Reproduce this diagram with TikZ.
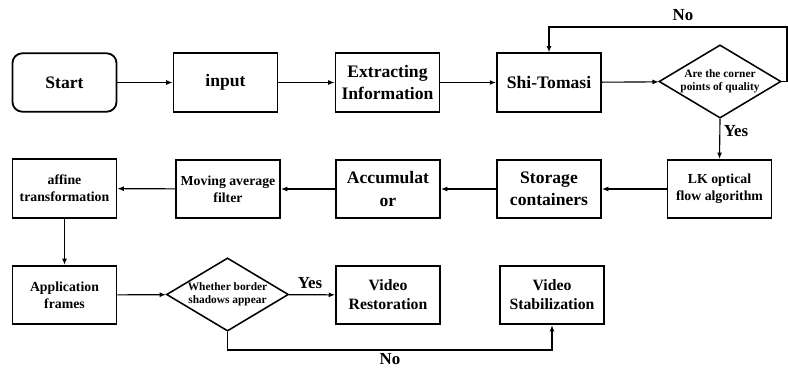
\documentclass[tikz,border=0pt]{standalone}
\usepackage{fontspec}
\setmainfont{Liberation Serif}
\usetikzlibrary{shapes.geometric,arrows.meta}
\begin{document}
\begin{tikzpicture}[x=0.025cm,y=-0.025cm,
                       box node/.style={rectangle,draw,line width=1.3pt,minimum width=2.6cm,minimum height=1.46cm,align=center,inner sep=1pt},
                       start node/.style={box node,rounded corners=7pt},
                       test node/.style={diamond,draw,line width=1.1pt,shape aspect=1.67,minimum width=3.05cm,minimum height=1.83cm,inner sep=0pt,align=center},
                       big/.style={font=\bfseries\fontsize{12.5}{16}\selectfont},
                       mid/.style={font=\bfseries\fontsize{11.2}{13.5}\selectfont},
                       small/.style={font=\bfseries\fontsize{9.8}{12}\selectfont},
                       tiny/.style={font=\bfseries\fontsize{8.1}{9.4}\selectfont},
                       tag/.style={font=\bfseries\fontsize{12}{14}\selectfont},
                       flow/.style={line width=0.8pt,-{Latex[length=4.5pt,width=3.5pt]}}
                      ]
  \useasboundingbox (0,0) rectangle (788,369);

  % first row
  \node[start node,big] (start) at (64.5,82.5) {Start};
  \node[box node,big] (input) at (225.5,82.5) {input};
  \node[box node,big] (extract) at (387.5,82.5) {Extracting\\Information};
  \node[box node,big] (shi) at (549,82.5) {Shi-Tomasi};
  \node[test node,tiny] (corner) at (720,81.5) {Are the corner\\points of quality};

  % second row
  \node[box node,small] (lk) at (719.5,189) {LK optical\\flow algorithm};
  \node[box node,big] (store) at (549,189) {Storage\\containers};
  \node[box node,big] (accum) at (388,189) {Accumulat\\or};
  \node[box node,small] (moving) at (228,189) {Moving average\\filter};
  \node[box node,small] (affine) at (64.5,188.5) {affine\\transformation};

  % third row
  \node[box node,small] (apply) at (64.5,295) {Application\\frames};
  \node[test node,tiny] (border) at (227.5,294.5) {Whether border\\shadows appear};
  \node[box node,mid] (restore) at (388,295) {Video\\Restoration};
  \node[box node,mid] (stable) at (552,295) {Video\\Stabilization};

  \coordinate (loop) at (787,27);
  \coordinate (turn) at (227.5,350);

  \draw[flow] (start) -- (input);
  \draw[flow] (input) -- (extract);
  \draw[flow] (extract) -- (shi);
  \draw[flow] (shi) -- (corner);
  \draw[flow] (corner.south) -- (lk.north);
  \draw[flow] (corner.east) -| (loop) -| (shi.north);
  \draw[flow] (lk) -- (store);
  \draw[flow] (store) -- (accum);
  \draw[flow] (accum) -- (moving);
  \draw[flow] (moving) -- (affine);
  \draw[flow] (affine) -- (apply);
  \draw[flow] (apply) -- (border);
  \draw[flow] (border) -- (restore);
  \draw[flow] (border.south) -- (turn) -| (stable.south);

  % branch labels
  \node[tag] (no1) at (683,15) {No};
  \node[tag] (yes1) at (736,131) {Yes};
  \node[tag] (yes2) at (310,283) {Yes};
  \node[tag] (no2) at (390,359) {No};
\end{tikzpicture}
\end{document}
